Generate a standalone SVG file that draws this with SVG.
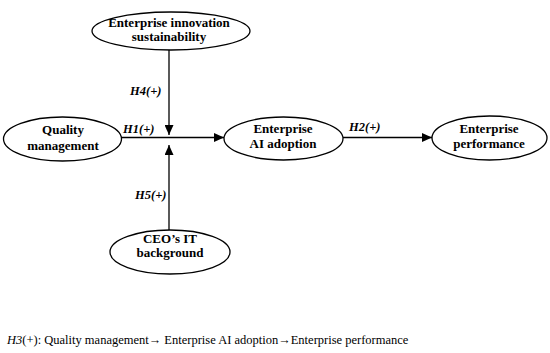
<svg xmlns="http://www.w3.org/2000/svg" width="550" height="353" viewBox="0 0 550 353">
<defs>
<style>
.node ellipse{fill:#fff;stroke:#000;stroke-width:1.3}
.node text{font-family:"Liberation Serif","Times New Roman",serif;font-weight:bold;font-size:13px;text-anchor:middle;fill:#000}
.lbl{font-family:"Liberation Serif","Times New Roman",serif;font-weight:bold;font-style:italic;font-size:12.5px;fill:#000}
.edge{stroke:#000;stroke-width:1.3;fill:none;marker-end:url(#ah)}
.note{font-family:"Liberation Serif","Times New Roman",serif;font-size:12.5px;fill:#000}
</style>
<marker id="ah" markerUnits="userSpaceOnUse" markerWidth="10" markerHeight="9" refX="10" refY="4.5" orient="auto">
<path d="M0,0 L10,4.5 L0,9 z" fill="#000"/>
</marker>
</defs>
<rect width="550" height="353" fill="#fff"/>
<g id="connectors">
<line class="edge" x1="122" y1="137.5" x2="224" y2="137.5"/>
<line class="edge" x1="343" y1="137.5" x2="432" y2="137.5"/>
<line class="edge" x1="169" y1="50" x2="169" y2="135"/>
<line class="edge" x1="169" y1="230" x2="169" y2="145"/>
<text class="lbl" x="130" y="95">H4(+)</text>
<text class="lbl" x="123" y="133">H1(+)</text>
<text class="lbl" x="349" y="131">H2(+)</text>
<text class="lbl" x="135" y="199">H5(+)</text>
</g>
<g id="n-innovation" class="node">
<ellipse cx="171" cy="31" rx="79" ry="19"/>
<text x="169" y="27">Enterprise innovation</text>
<text x="169" y="41">sustainability</text>
</g>
<g id="n-quality" class="node">
<ellipse cx="62.5" cy="139" rx="59" ry="22"/>
<text x="63" y="134">Quality</text>
<text x="63" y="150">management</text>
</g>
<g id="n-ai" class="node">
<ellipse cx="283.5" cy="138.5" rx="59.5" ry="21.5"/>
<text x="283" y="133">Enterprise</text>
<text x="283" y="148">AI adoption</text>
</g>
<g id="n-performance" class="node">
<ellipse cx="489.5" cy="138" rx="57.5" ry="22"/>
<text x="489" y="133">Enterprise</text>
<text x="489" y="148">performance</text>
</g>
<g id="n-ceo" class="node">
<ellipse cx="170" cy="252" rx="60" ry="22"/>
<text x="170" y="243">CEO’s IT</text>
<text x="170" y="257">background</text>
</g>
<text class="note" x="7" y="344"><tspan font-style="italic">H3</tspan>(+): Quality management→ Enterprise AI adoption→Enterprise performance</text>
</svg>
